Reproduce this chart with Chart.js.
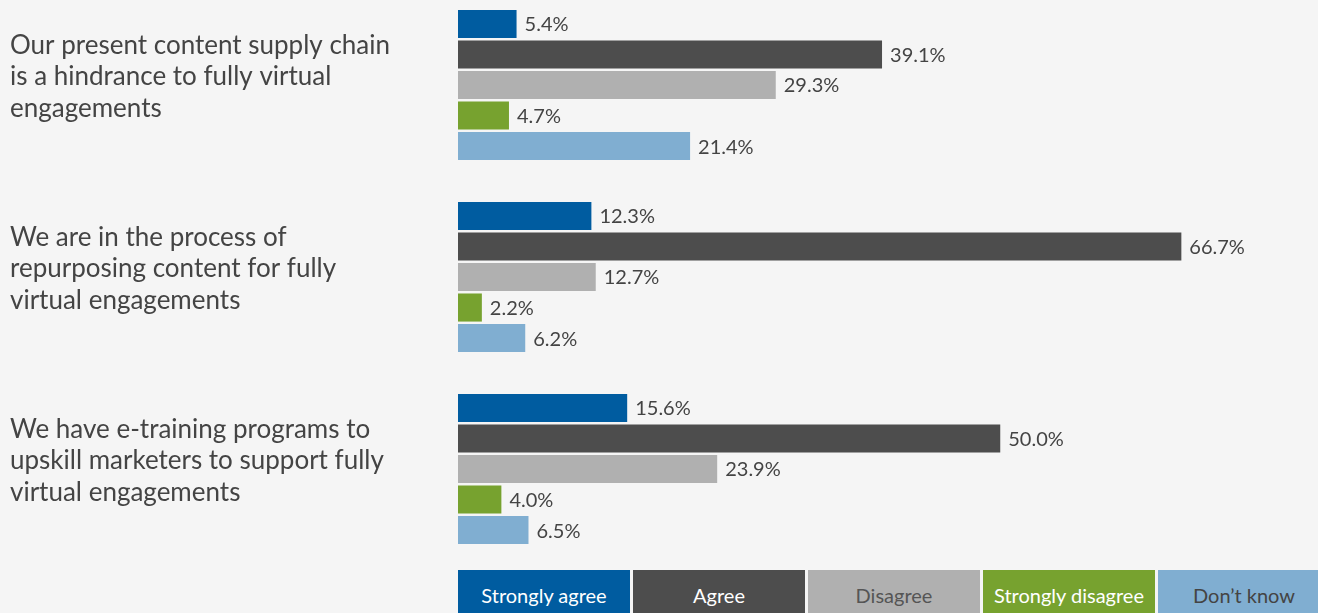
<!DOCTYPE html>
<html>
<head>
<meta charset="utf-8">
<script src="https://cdn.jsdelivr.net/npm/chart.js@4"></script>
<style>
  html, body { margin:0; padding:0; background:#f5f5f5; overflow:hidden; }
  #wrap { position:relative; width:1318px; height:613px; overflow:hidden; }
  #chartCanvas { position:absolute; left:0; top:-11px; }
  #legend { position:absolute; left:458px; top:570px; display:flex; white-space:nowrap; }
  .leg { width:172px; height:43px; margin-right:3px; flex:none; font-family:Lato, sans-serif; font-size:20px;
         display:flex; align-items:center; justify-content:center; padding-top:6px; box-sizing:border-box; }
</style>
</head>
<body>
<div id="wrap">
  <canvas id="chartCanvas" width="1318" height="576"></canvas>
  <div id="legend"></div>
</div>
<script>
// categories (statements) and series
const categories = [
  ['Our present content supply chain', 'is a hindrance to fully virtual', 'engagements'],
  ['We are in the process of', 'repurposing content for fully', 'virtual engagements'],
  ['We have e-training programs to', 'upskill marketers to support fully', 'virtual engagements']
];
const seriesNames = ['Strongly agree', 'Agree', 'Disagree', 'Strongly disagree', 'Don\u2019t know'];
const stronglyAgree = [5.4, 12.3, 15.6];
const agree = [39.1, 66.7, 50.0];
const disagree = [29.3, 12.7, 23.9];
const stronglyDisagree = [4.7, 2.2, 4.0];
const dontKnow = [21.4, 6.2, 6.5];

const seriesColors = ['#005ca0', '#4d4d4d', '#b0b0b0', '#77a22f', '#80aed1'];
const legendTextColors = ['#ffffff', '#ffffff', '#555555', '#ffffff', '#444444'];
const seriesData = [stronglyAgree, agree, disagree, stronglyDisagree, dontKnow];

// value labels at the end of each bar + statement text on the left
const barText = {
  id: 'barText',
  afterDatasetsDraw(chart) {
    const ctx = chart.ctx;
    ctx.save();
    ctx.font = '20px Lato';
    ctx.fillStyle = '#444444';
    ctx.textAlign = 'left';
    ctx.textBaseline = 'middle';
    chart.data.datasets.forEach((ds, i) => {
      chart.getDatasetMeta(i).data.forEach((bar, j) => {
        ctx.fillText(ds.data[j].toFixed(1) + '%', bar.x + 8, bar.y + 1);
      });
    });

    // category labels, left aligned
    const yScale = chart.scales.y;
    const lineH = 31.5;
    ctx.font = '26px Lato';
    chart.data.labels.forEach((lines, i) => {
      const cy = yScale.getPixelForValue(i) - 8;
      const top = cy - (lines.length - 1) * lineH / 2;
      lines.forEach((line, k) => ctx.fillText(line, 10, top + k * lineH));
    });
    ctx.restore();
  }
};

const ctx = document.getElementById('chartCanvas').getContext('2d');
new Chart(ctx, {
  type: 'bar',
  data: {
    labels: categories,
    datasets: seriesNames.map((name, i) => ({
      label: name,
      data: seriesData[i],
      backgroundColor: seriesColors[i],
      borderWidth: 0,
      barPercentage: 0.92,
      categoryPercentage: 0.795
    }))
  },
  options: {
    indexAxis: 'y',
    responsive: false,
    animation: false,
    layout: { padding: { left: 458, right: 0, top: 0, bottom: 0 } },
    scales: {
      x: { display: false, min: 0, max: 79.3 },
      y: { display: false }
    },
    plugins: {
      legend: { display: false },
      tooltip: { enabled: false }
    }
  },
  plugins: [barText]
});

// legend boxes along the bottom
const legendEl = document.getElementById('legend');
seriesNames.forEach((name, i) => {
  const d = document.createElement('div');
  d.className = 'leg';
  d.style.background = seriesColors[i];
  d.style.color = legendTextColors[i];
  d.textContent = name;
  legendEl.appendChild(d);
});
</script>
</body>
</html>
